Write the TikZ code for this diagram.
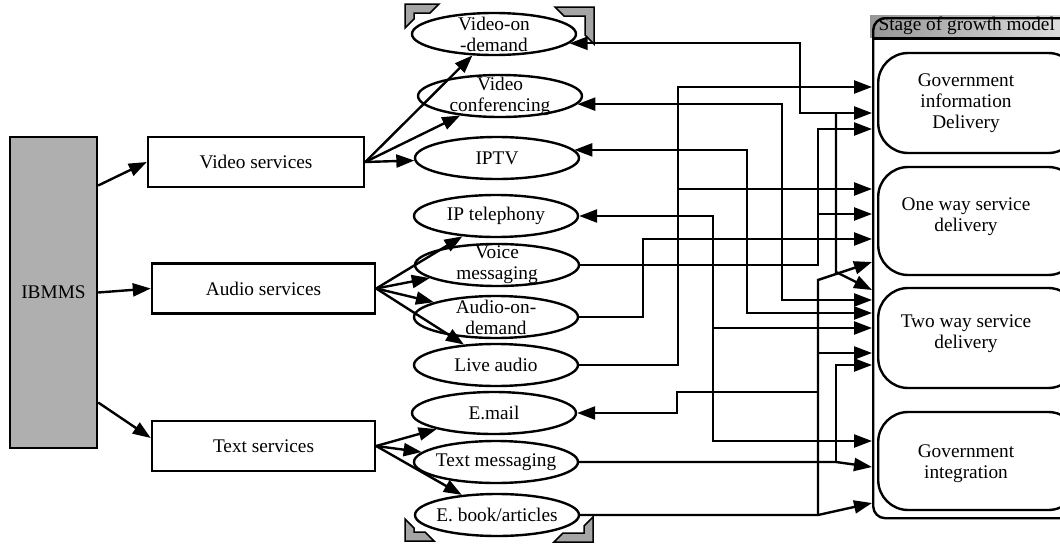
\documentclass[tikz,border=0pt]{standalone}
\usepackage{fontspec}
\setmainfont{Liberation Serif}
\usetikzlibrary{arrows.meta,shapes.geometric}
\definecolor{box_gray}{RGB}{175,175,175}
\definecolor{corner_gray}{RGB}{165,165,165}
\definecolor{hdr_dark}{RGB}{150,150,150}
\definecolor{hdr_light}{RGB}{222,222,222}

\begin{document}
\begin{tikzpicture}[x=1pt,y=-1pt,line width=2.4pt,>={Triangle[length=18pt,width=13pt]},
    font=\fontsize{19.3}{21}\selectfont]
    \tikzstyle{hub}=[draw, rectangle, fill=box_gray, inner sep=0pt]
    \tikzstyle{svc}=[draw, rectangle, inner sep=0pt, minimum height=50pt]
    \tikzstyle{media}=[draw, ellipse, align=center, minimum width=164pt, minimum height=42pt,
                       inner xsep=-4pt, inner ysep=-5pt]
    \tikzstyle{stagebox}=[draw, rectangle, rounded corners=30pt, minimum width=200pt, anchor=west]
    \tikzstyle{stagetext}=[align=center, inner sep=0pt]
    \tikzstyle{corner}=[draw=black, fill=corner_gray, line width=1.5pt, line join=miter]

    \useasboundingbox (0,0) rectangle (1060,544);
    \clip (0,0) rectangle (1060,544);

    % sources
    \node[hub, minimum width=87pt, minimum height=311pt] (ibmms) at (53.5,292.5) {IBMMS};
    \node[svc, minimum width=216pt] (videosvc) at (256,162)   {Video services};
    \node[svc, minimum width=223pt] (audiosvc) at (263.5,288.5) {Audio services};
    \node[svc, minimum width=223pt] (textsvc)  at (263.5,446) {Text services};

    % media column
    \node[media] (vod)     at (494,34)  {Video-on\\-demand};
    \node[media] (vconf)   at (500,96)  {Video\\conferencing};
    \node[media] (iptv)    at (497,158) {IPTV};
    \node[media] (iptel)   at (496,216) {IP telephony};
    \node[media] (voice)   at (497,265) {Voice\\messaging};
    \node[media] (aod)     at (496,317) {Audio-on-\\demand};
    \node[media] (live)    at (496,365) {Live audio};
    \node[media] (email)   at (494,413) {E.mail};
    \node[media] (textmsg) at (496,462) {Text messaging};
    \node[media] (ebook)   at (497,515) {E. book/articles};

    % corner marks round the media column
    \draw[corner] (405,28) -- (405,4) -- (439,4) -- (430,13) -- (414,13) -- (414,19) -- cycle;
    \draw[corner] (594,44) -- (594,7) -- (555,7) -- (564,16) -- (585,16) -- (585,35) -- cycle;
    \draw[corner] (405,519) -- (405,541) -- (434,541) -- (425,532) -- (414,532) -- (414,528) -- cycle;
    \draw[corner] (593,517) -- (593,542) -- (554,542) -- (563,533) -- (584,533) -- (584,526) -- cycle;

    % stage of growth model
    \node[draw=none, left color=hdr_dark, right color=hdr_light, inner sep=0pt,
          minimum width=193pt, minimum height=22pt, anchor=north west] (hdr) at (869,14) {Stage of growth model};
    \node[draw, rounded corners=12pt, minimum width=220pt, minimum height=500pt,
          anchor=north west] (stage) at (872,17) {};
    \draw (stage.west |- hdr.south) -- (hdr.south east);
    \node[stagebox, minimum height=100pt] (gibox)   at (877,103) {};
    \node[stagebox, minimum height=108pt] (owbox)   at (877,221) {};
    \node[stagebox, minimum height=100pt] (twbox)   at (877,338) {};
    \node[stagebox, minimum height=98pt]  (gintbox) at (877,461) {};
    \node[stagetext] (gitext)   at (966,103) {Government\\information\\Delivery};
    \node[stagetext] (owtext)   at (966,217) {One way service\\delivery};
    \node[stagetext] (twtext)   at (966,334) {Two way service\\delivery};
    \node[stagetext] (ginttext) at (966,464) {Government\\integration};

    % fan out
    \path[->]
     ([yshift=107pt]ibmms.east) edge (videosvc.west)
     (ibmms.east) edge (audiosvc.west)
     ([yshift=-110pt]ibmms.east) edge ([yshift=8pt]textsvc.west)
     (videosvc.east) edge (vod)
     (videosvc.east) edge (vconf)
     (videosvc.east) edge (iptv)
     (audiosvc.east) edge (iptel)
     (audiosvc.east) edge (voice)
     (audiosvc.east) edge (aod)
     (audiosvc.east) edge (live)
     (textsvc.east) edge (email)
     (textsvc.east) edge (textmsg)
     (textsvc.east) edge (ebook)
     ;

    % wiring to the stages
    \draw[->] (live.east) -| (678,87) -- (stage.west |- 0,87);
    \draw[->] (678,189) -- (stage.west |- 0,189);
    \draw[<->] (vod.-7) -| (800,113) -- (stage.west |- 0,113);
    \draw[->] (836,113) -- (836,272) -- (stage.west |- 0,290);
    \draw[->] (voice.east) -| (818,129) -- (stage.west |- 0,129);
    \draw[->] (818,214) -- (stage.west |- 0,214);
    \draw[->] (aod.east) -| (643,239) -- (stage.west |- 0,239);
    \draw[<->] (vconf.-6) -| (782,300) -- (stage.west |- 0,300);
    \draw[<->] (iptv.6) -| (747,313) -- (stage.west |- 0,313);
    \draw[<->] (iptel.east) -| (713,441) -- (stage.west |- 0,441);
    \draw[->] (713,328) -- (stage.west |- 0,328);
    \draw[->] (ebook.east) -- (818,515) -- (stage.west |- 0,503);
    \draw[->] (818,515) -- (818,280) -- (stage.west |- 0,262);
    \draw[->] (818,353) -- (stage.west |- 0,353);
    \draw[<-] (email.east) -| (677,392) -- (818,392);
    \draw[->] (textmsg.east) -- (836,462) -- (stage.west |- 0,467);
    \draw[->] (836,462) -- (836,365) -- (stage.west |- 0,365);
\end{tikzpicture}
\end{document}
